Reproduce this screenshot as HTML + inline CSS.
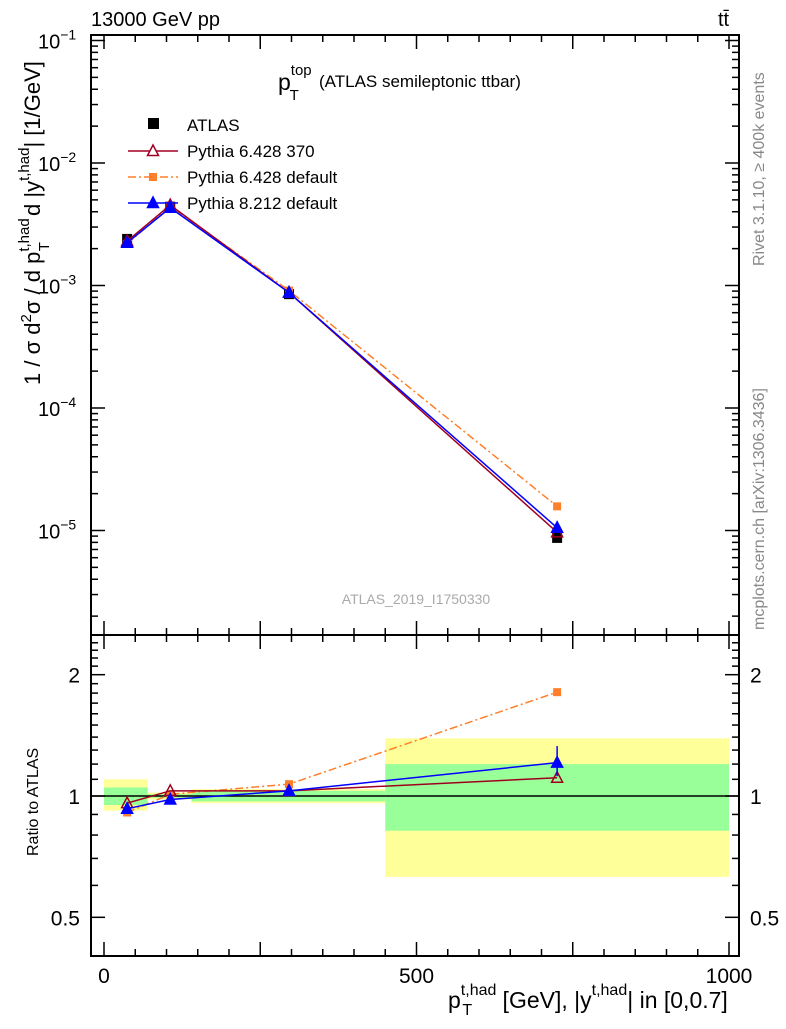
<!DOCTYPE html>
<html><head><meta charset="utf-8"><style>
body{margin:0;background:#fff}
svg text{font-family:"Liberation Sans",sans-serif}
</style></head><body>
<svg id="c" width="786" height="1024" xmlns="http://www.w3.org/2000/svg"></svg>
<script>
const xs=[37,106,296,725];
const atlas=[2.4e-3,4.4e-3,8.5e-4,8.7e-6];
const r370=[0.96,1.03,1.03,1.11];
const rdef=[0.91,1.01,1.07,1.81];
const r8=[0.93,0.98,1.03,1.21];
const binLo=[0,70,140,450];
const binHi=[70,140,450,1000];
const greenLo=[0.95,0.99,0.97,0.82];
const greenHi=[1.05,1.01,1.03,1.2];
const yelLo=[0.92,0.98,0.96,0.63];
const yelHi=[1.1,1.02,1.04,1.39];
const xticks=[0,500,1000];
const NS="http://www.w3.org/2000/svg";
const svg=document.getElementById('c');
const L=91,R=739,T=35,M=635,B=956;
const X=v=>104+v*0.625;
const Y=v=>163-(Math.log10(v)+2)*122.5;
const YR=v=>796-Math.log10(v)*403;
function el(t,a,p){const e=document.createElementNS(NS,t);for(const k in a)e.setAttribute(k,a[k]);(p||svg).appendChild(e);return e;}
function txt(x,y,s,a,p){const e=el('text',Object.assign({x:x,y:y},a||{}),p);e.textContent=s;return e;}
function ts(parent,s,a){const e=el('tspan',a||{},parent);e.textContent=s;return e;}
for(let i=0;i<binLo.length;i++){
 const y=el('rect',{x:X(binLo[i]),y:YR(yelHi[i]),width:X(binHi[i])-X(binLo[i]),height:YR(yelLo[i])-YR(yelHi[i]),fill:'#ffff99'});
 
 
 const g=el('rect',{x:X(binLo[i]),y:YR(greenHi[i]),width:X(binHi[i])-X(binLo[i]),height:YR(greenLo[i])-YR(greenHi[i]),fill:'#99ff99'});
 
 
}
el('line',{x1:L,x2:R,y1:YR(1),y2:YR(1),stroke:'#000','stroke-width':1.5});
el('rect',{x:L,y:T,width:R-L,height:M-T,fill:'none',stroke:'#000','stroke-width':2});
el('rect',{x:L,y:M,width:R-L,height:B-M,fill:'none',stroke:'#000','stroke-width':2});
for(let d=-6;d<=-1;d++)for(let m=1;m<10;m++){const v=m*Math.pow(10,d);const y=Y(v);if(y<T||y>M)continue;const l=m==1?14:7;
 el('line',{x1:L,x2:L+l,y1:y,y2:y,stroke:'#000','stroke-width':1.5});el('line',{x1:R,x2:R-l,y1:y,y2:y,stroke:'#000','stroke-width':1.5});}
for(let d=-5;d<=-1;d++){const t=txt(38,Y(Math.pow(10,d))+8,'10',{'font-size':20});
 ts(t,'\u2212'+(-d),{dy:-9,'font-size':14});}
[0.4,0.5,0.6,0.7,0.8,0.9,1,1.1,1.2,1.3,1.4,1.5,1.6,1.7,1.8,1.9,2,2.1,2.2,2.3,2.4].forEach(v=>{const y=YR(v);if(y<M||y>B)return;const big=(v==0.5||v==1||v==2);const l=big?14:7;
 el('line',{x1:L,x2:L+l,y1:y,y2:y,stroke:'#000','stroke-width':1.5});el('line',{x1:R,x2:R-l,y1:y,y2:y,stroke:'#000','stroke-width':1.5});});
[[2,'2'],[1,'1'],[0.5,'0.5']].forEach(a=>{txt(80,YR(a[0])+8,a[1],{'font-size':21,'text-anchor':'end'});txt(750,YR(a[0])+8,a[1],{'font-size':21});});
for(let v=0;v<=1000;v+=50){const big=v%250==0;const l=big?14:7;const x=X(v);
 [[T,1],[M,1],[M,-1],[B,-1]].forEach(p=>el('line',{x1:x,x2:x,y1:p[0],y2:p[0]+p[1]*l,stroke:'#000','stroke-width':1.5}));}
xticks.forEach(v=>txt(X(v),983,String(v),{'font-size':21,'text-anchor':'middle'}));
function poly(vals,f,st,name){const p=el('polyline',Object.assign({points:xs.map((x,i)=>X(x)+','+f(vals[i])).join(' '),fill:'none'},st));}
function tri(x,y,fill,stroke,p){return el('polygon',{points:`${x-5.5},${y+4.5} ${x+5.5},${y+4.5} ${x},${y-6}`,fill:fill,stroke:stroke,'stroke-width':1.5},p);}
const p370=atlas.map((a,i)=>a*r370[i]),pdef=atlas.map((a,i)=>a*rdef[i]),p8=atlas.map((a,i)=>a*r8[i]);
atlas.forEach((a,i)=>el('rect',{x:X(xs[i])-5,y:Y(a)-5,width:10,height:10,fill:'#000'}));
poly(pdef,Y,{stroke:'#ff7f2a','stroke-width':1.5,'stroke-dasharray':'8,3,2,3'},'line-pythia6-default');
pdef.forEach((v,i)=>el('rect',{x:X(xs[i])-4,y:Y(v)-4,width:8,height:8,fill:'#ff7f2a'}));
poly(p370,Y,{stroke:'#a00020','stroke-width':1.5},'line-pythia6-370');
p370.forEach((v,i)=>tri(X(xs[i]),Y(v),'none','#a00020'));
poly(p8,Y,{stroke:'#0000ff','stroke-width':1.5},'line-pythia8');
p8.forEach((v,i)=>tri(X(xs[i]),Y(v),'#0000ff','#0000ff'));
poly(rdef,YR,{stroke:'#ff7f2a','stroke-width':1.5,'stroke-dasharray':'8,3,2,3'},'ratio-pythia6-default');
rdef.forEach((v,i)=>el('rect',{x:X(xs[i])-4,y:YR(v)-4,width:8,height:8,fill:'#ff7f2a'}));
poly(r370,YR,{stroke:'#a00020','stroke-width':1.5},'ratio-pythia6-370');
r370.forEach((v,i)=>tri(X(xs[i]),YR(v),'none','#a00020'));
poly(r8,YR,{stroke:'#0000ff','stroke-width':1.5},'ratio-pythia8');
el('line',{x1:X(725),x2:X(725),y1:YR(1.33),y2:YR(1.12),stroke:'#0000ff','stroke-width':1.5});
r8.forEach((v,i)=>tri(X(xs[i]),YR(v),'#0000ff','#0000ff'));
const lg=el('g',{});
el('rect',{x:148,y:118,width:11,height:11,fill:'#000'},lg);txt(187,131,'ATLAS',{'font-size':17},lg);
el('line',{x1:128,x2:178,y1:151,y2:151,stroke:'#a00020','stroke-width':1.5},lg);tri(153,151,'#fff','#a00020',lg);txt(187,157,'Pythia 6.428 370',{'font-size':17},lg);
el('line',{x1:128,x2:178,y1:177,y2:177,stroke:'#ff7f2a','stroke-width':1.5,'stroke-dasharray':'8,3,2,3'},lg);el('rect',{x:149,y:173,width:8,height:8,fill:'#ff7f2a'},lg);txt(187,183,'Pythia 6.428 default',{'font-size':17},lg);
el('line',{x1:128,x2:178,y1:203,y2:203,stroke:'#0000ff','stroke-width':1.5},lg);tri(153,203,'#0000ff','#0000ff',lg);txt(187,209,'Pythia 8.212 default',{'font-size':17},lg);
txt(91,26,'13000 GeV pp',{'font-size':20});
txt(718,26,'tt\u0304',{'font-size':20});
const tt=txt(278,90,'p',{'font-size':23});ts(tt,'top',{dy:-15,'font-size':15});ts(tt,'T',{dx:-22,dy:25,'font-size':15});
txt(319,87,'(ATLAS semileptonic ttbar)',{'font-size':17});
txt(416,604,'ATLAS_2019_I1750330',{'font-size':14,fill:'#aaa','text-anchor':'middle'});
txt(0,0,'Rivet 3.1.10, \u2265 400k events',{'font-size':16,fill:'#888',transform:'translate(764,266) rotate(-90)'});
txt(0,0,'mcplots.cern.ch [arXiv:1306.3436]',{'font-size':16,fill:'#888',transform:'translate(764,630) rotate(-90)'});
const yt=txt(0,0,'1 / \u03c3 d',{'font-size':22,transform:'translate(40,385) rotate(-90)'});
ts(yt,'2',{dy:-9,'font-size':15});ts(yt,'\u03c3 / d p',{dy:9});ts(yt,'t,had',{dy:-11,'font-size':15});ts(yt,'T',{dx:-33,dy:20,'font-size':15});
ts(yt,' d |y',{dx:20,dy:-9});ts(yt,'t,had',{dy:-11,'font-size':15});ts(yt,'| [1/GeV]',{dy:11});
txt(0,0,'Ratio to ATLAS',{'font-size':16,transform:'translate(38,856) rotate(-90)'});
const xl=txt(448,1008,'p',{'font-size':23});ts(xl,'t,had',{dy:-13,'font-size':16});ts(xl,'T',{dx:-34,dy:20,'font-size':16});
ts(xl,' [GeV], |y',{dx:24,dy:-7,'font-size':23});ts(xl,'t,had',{dy:-13,'font-size':16});ts(xl,'| in [0,0.7]',{dy:13,'font-size':23});
</script>
</body></html>
